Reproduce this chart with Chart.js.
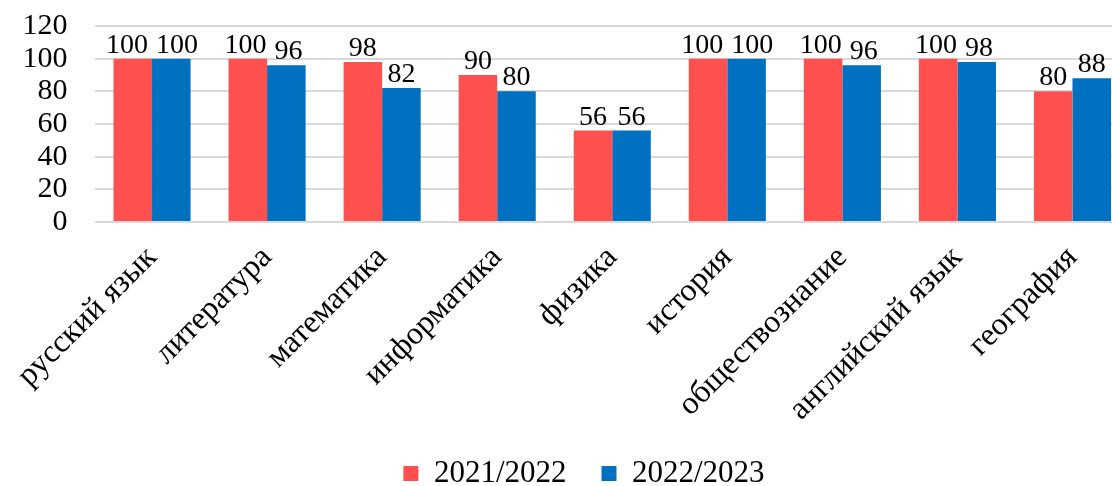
<!DOCTYPE html>
<html>
<head>
<meta charset="utf-8">
<script src="https://cdn.jsdelivr.net/npm/chart.js@4/dist/chart.umd.min.js"></script>
<style>
  html, body { margin: 0; padding: 0; background: #ffffff; overflow: hidden; }
  #wrap { width: 1168px; height: 486px; }
</style>
</head>
<body>
<div id="wrap"><canvas id="c" width="1168" height="486"></canvas></div>
<script>
const categories = ['русский язык', 'литература', 'математика', 'информатика', 'физика', 'история', 'обществознание', 'английский язык', 'география'];
const seriesNames = ['2021/2022', '2022/2023'];
const values2021 = [100, 100, 98, 90, 56, 100, 100, 100, 80];
const values2022 = [100, 96, 82, 80, 56, 100, 96, 98, 88];
const yTicks = [0, 20, 40, 60, 80, 100, 120];

const FONT = '"Liberation Serif", "Times New Roman", serif';

// Draws value labels above bars; if the two labels of a group would collide,
// they are pushed apart horizontally (as the spreadsheet program does).
const valueLabels = {
  id: 'valueLabels',
  afterDatasetsDraw(chart) {
    const ctx = chart.ctx;
    ctx.save();
    ctx.font = '28px ' + FONT;
    ctx.fillStyle = '#000000';
    ctx.textAlign = 'center';
    ctx.textBaseline = 'alphabetic';
    const gap = 6, minSep = 8, textH = 20;
    const m0 = chart.getDatasetMeta(0), m1 = chart.getDatasetMeta(1);
    const d0 = chart.data.datasets[0].data, d1 = chart.data.datasets[1].data;
    for (let i = 0; i < d0.length; i++) {
      const b0 = m0.data[i], b1 = m1.data[i];
      const t0 = String(d0[i]), t1 = String(d1[i]);
      const w0 = ctx.measureText(t0).width, w1 = ctx.measureText(t1).width;
      let x0 = b0.x, x1 = b1.x;
      const y0 = b0.y - gap, y1 = b1.y - gap;
      if (Math.abs(y0 - y1) < textH) {
        const overlap = (x0 + w0 / 2 + minSep) - (x1 - w1 / 2);
        if (overlap > 0) { x0 -= overlap / 2; x1 += overlap / 2; }
      }
      ctx.fillText(t0, x0, y0);
      ctx.fillText(t1, x1, y1);
    }
    ctx.restore();
  }
};

// Centre the legend on the full (uncropped) chart width rather than the padded area.
const legendShift = {
  id: 'legendShift',
  afterLayout(chart) {
    const lg = chart.legend;
    if (lg) { lg.left = 19; lg.right = chart.width - 19; }
  }
};

new Chart(document.getElementById('c'), {
  type: 'bar',
  data: {
    labels: categories,
    datasets: [
      { label: seriesNames[0], data: values2021, backgroundColor: '#FF5050', borderWidth: 0 },
      { label: seriesNames[1], data: values2022, backgroundColor: '#0070C0', borderWidth: 0 }
    ]
  },
  options: {
    responsive: false,
    animation: false,
    devicePixelRatio: 1,
    categoryPercentage: 0.67,
    barPercentage: 1.0,
    layout: { padding: { top: 0, left: 0, right: 38, bottom: -13 } },
    plugins: {
      legend: {
        position: 'bottom',
        labels: {
          font: { family: FONT, size: 31 },
          color: '#000000',
          boxWidth: 15,
          boxHeight: 15,
          padding: 35
        }
      },
      tooltip: { enabled: false }
    },
    scales: {
      x: {
        grid: { display: false, drawTicks: false },
        border: { display: false },
        ticks: {
          font: { family: FONT, size: 32 },
          color: '#000000',
          maxRotation: 45,
          minRotation: 45,
          autoSkip: false,
          padding: 17
        },
        afterFit(scale) { scale.height = 201; }
      },
      y: {
        min: 0,
        max: 120,
        afterBuildTicks(scale) { scale.ticks = yTicks.map(v => ({ value: v })); },
        grid: { color: '#D9D9D9', lineWidth: 2, drawTicks: false },
        border: { display: false },
        ticks: {
          font: { family: FONT, size: 30 },
          color: '#000000',
          padding: 27,
          autoSkip: false
        },
        afterFit(scale) {
          scale.width = 94.5;
          scale.paddingTop = 26;
          scale.paddingBottom = 0;
        }
      }
    }
  },
  plugins: [valueLabels, legendShift]
});
</script>
</body>
</html>
